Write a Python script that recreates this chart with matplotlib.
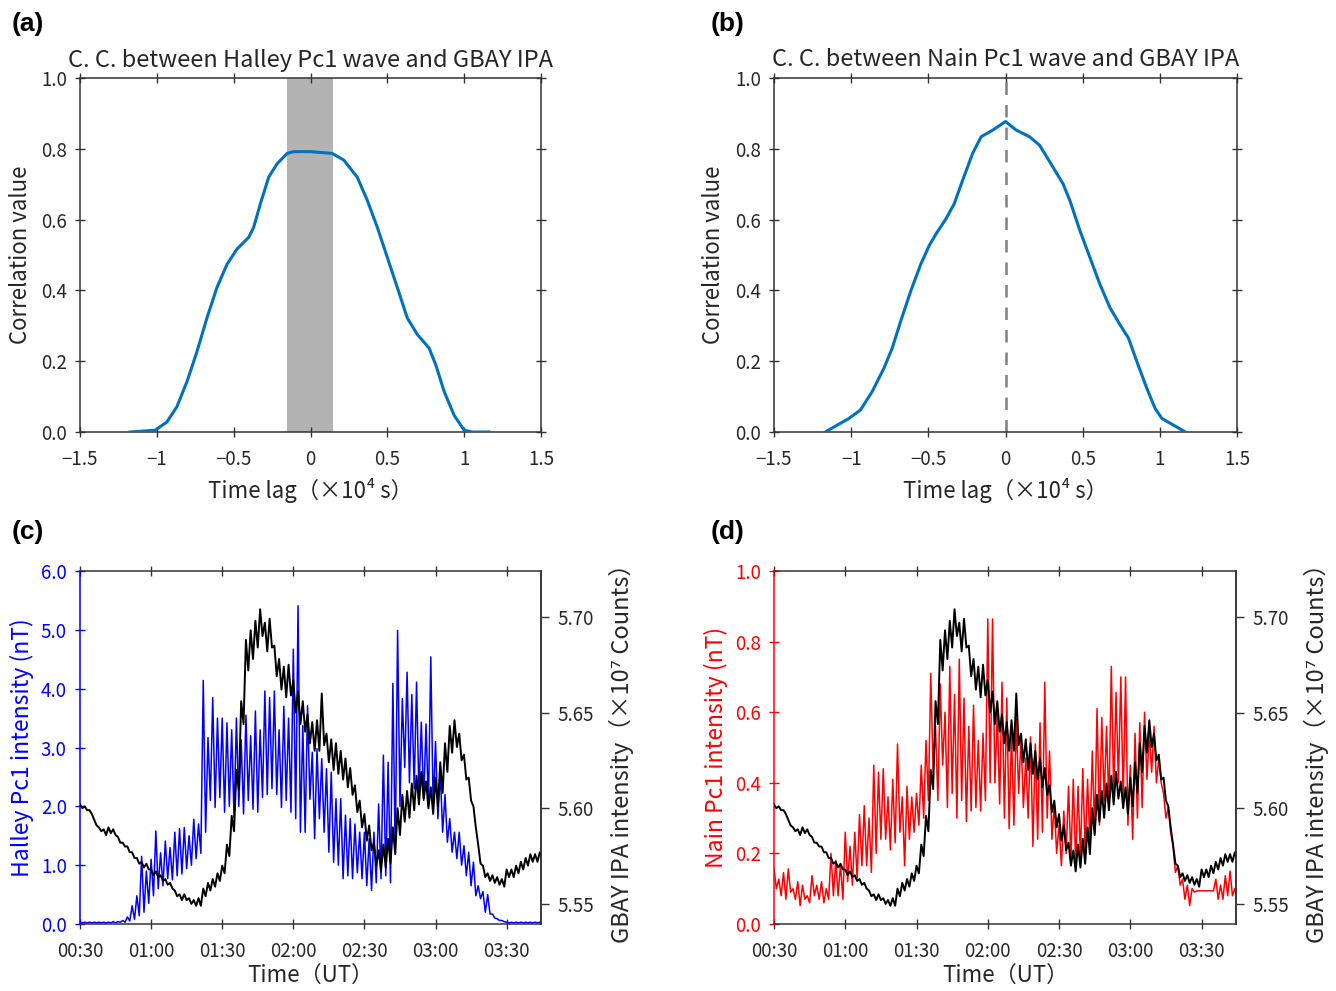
import numpy as np
import matplotlib
matplotlib.use('Agg')
import matplotlib.pyplot as plt

plt.rcParams['font.family'] = ['Noto Sans CJK JP', 'DejaVu Sans']
plt.rcParams['axes.unicode_minus'] = True

TXT = '#262626'

# ---------------- data ----------------
# (a) cross-correlation Halley Pc1 vs GBAY IPA  (lag in 1e4 s)
lag_a = [-1.174, -1.011, -0.935, -0.870, -0.804, -0.739, -0.674, -0.609, -0.543, -0.478,
         -0.402, -0.370, -0.326, -0.272, -0.217, -0.152, -0.109, 0.0, 0.141, 0.217,
         0.304, 0.370, 0.435, 0.500, 0.565, 0.630, 0.696, 0.772, 0.815, 0.870,
         0.935, 1.000, 1.054, 1.163]
cc_a = [0.0, 0.005, 0.028, 0.071, 0.142, 0.227, 0.322, 0.408, 0.474, 0.517,
        0.550, 0.578, 0.645, 0.720, 0.758, 0.787, 0.792, 0.792, 0.787, 0.768,
        0.720, 0.654, 0.578, 0.493, 0.408, 0.322, 0.275, 0.237, 0.190, 0.114,
        0.047, 0.005, 0.0, 0.0]
band_a = [-0.152, 0.148]

# (b) cross-correlation Nain Pc1 vs GBAY IPA
lag_b = [-1.168, -1.016, -0.940, -0.864, -0.788, -0.734, -0.679, -0.614, -0.549, -0.495,
         -0.451, -0.386, -0.332, -0.278, -0.213, -0.158, -0.082, 0.0, 0.069, 0.156,
         0.221, 0.287, 0.373, 0.417, 0.482, 0.547, 0.612, 0.677, 0.742, 0.797,
         0.851, 0.916, 0.970, 1.014, 1.090, 1.166]
cc_b = [0.0, 0.038, 0.062, 0.114, 0.180, 0.237, 0.313, 0.398, 0.474, 0.526,
        0.559, 0.602, 0.645, 0.711, 0.787, 0.834, 0.853, 0.877, 0.853, 0.834,
        0.810, 0.763, 0.701, 0.654, 0.569, 0.493, 0.417, 0.351, 0.303, 0.265,
        0.199, 0.123, 0.066, 0.038, 0.019, 0.0]
peak_lag_b = 0.0

# (c),(d) time series: 2-minute bins (minutes after 00:00 UT), max / min in each bin
t_start, t_step, n_bins = 30, 2, 98

halley_hi = [0.03, 0.03, 0.03, 0.03, 0.03, 0.03, 0.03, 0.04, 0.04, 0.06,
             0.12, 0.31, 0.48, 1.15, 0.90, 1.10, 1.58, 1.21, 1.41, 1.30,
             1.56, 1.62, 1.64, 1.50, 1.78, 1.70, 4.14, 3.17, 3.85, 3.50,
             3.50, 3.42, 3.30, 3.50, 3.13, 3.55, 3.20, 3.62, 3.30, 3.96,
             3.85, 3.96, 3.30, 3.70, 3.50, 4.67, 5.41, 3.37, 3.71, 2.92,
             2.98, 2.81, 2.64, 2.58, 2.13, 2.13, 1.85, 1.79, 1.70, 1.56,
             1.56, 1.45, 1.56, 2.04, 2.87, 2.75, 4.09, 4.99, 3.83, 4.28,
             3.90, 4.11, 3.43, 3.40, 4.54, 3.10, 2.58, 2.20, 1.79, 1.56,
             1.56, 1.33, 1.22, 1.05, 0.65, 0.55, 0.50, 0.17, 0.09, 0.06,
             0.03, 0.03, 0.03, 0.03, 0.03, 0.03, 0.03, 0.03]
halley_lo = [0.02, 0.02, 0.02, 0.02, 0.02, 0.02, 0.02, 0.02, 0.03, 0.03,
             0.05, 0.08, 0.14, 0.20, 0.35, 0.48, 0.60, 0.65, 0.77, 0.75,
             0.82, 0.85, 0.94, 1.00, 1.11, 1.20, 1.56, 2.10, 1.98, 2.15,
             1.90, 2.00, 1.80, 2.00, 1.87, 2.10, 1.95, 1.90, 2.15, 2.20,
             2.30, 2.20, 1.98, 2.10, 1.90, 1.79, 1.56, 1.56, 2.12, 1.45,
             1.79, 1.56, 1.22, 1.05, 1.00, 0.77, 0.82, 0.77, 0.87, 0.77,
             0.65, 0.57, 0.70, 0.77, 0.82, 0.70, 1.20, 2.00, 2.66, 2.40,
             2.30, 2.20, 2.10, 2.00, 1.98, 1.79, 1.56, 1.39, 1.22, 1.11,
             1.00, 0.82, 0.65, 0.48, 0.43, 0.20, 0.17, 0.10, 0.06, 0.04,
             0.02, 0.02, 0.02, 0.02, 0.02, 0.02, 0.02, 0.02]

nain_hi = [0.156, 0.127, 0.146, 0.156, 0.10, 0.12, 0.11, 0.08, 0.137, 0.11,
           0.12, 0.10, 0.20, 0.18, 0.17, 0.26, 0.22, 0.26, 0.31, 0.335,
           0.30, 0.45, 0.43, 0.44, 0.36, 0.41, 0.51, 0.36, 0.39, 0.36,
           0.37, 0.45, 0.52, 0.71, 0.56, 0.68, 0.60, 0.73, 0.65, 0.75,
           0.64, 0.56, 0.62, 0.52, 0.54, 0.864, 0.864, 0.60, 0.685, 0.64,
           0.54, 0.58, 0.53, 0.47, 0.53, 0.51, 0.57, 0.685, 0.49, 0.34,
           0.28, 0.32, 0.39, 0.41, 0.39, 0.44, 0.41, 0.49, 0.61, 0.585,
           0.56, 0.73, 0.656, 0.70, 0.70, 0.45, 0.54, 0.57, 0.60, 0.54,
           0.56, 0.47, 0.37, 0.33, 0.22, 0.165, 0.127, 0.11, 0.10, 0.094,
           0.094, 0.094, 0.094, 0.127, 0.11, 0.137, 0.15, 0.10]
nain_lo = [0.10, 0.08, 0.07, 0.09, 0.07, 0.052, 0.07, 0.06, 0.08, 0.07,
           0.06, 0.07, 0.08, 0.08, 0.07, 0.12, 0.11, 0.13, 0.165, 0.165,
           0.146, 0.20, 0.24, 0.24, 0.21, 0.23, 0.26, 0.165, 0.24, 0.26,
           0.28, 0.30, 0.35, 0.43, 0.35, 0.45, 0.33, 0.37, 0.30, 0.35,
           0.29, 0.32, 0.33, 0.32, 0.35, 0.40, 0.40, 0.34, 0.30, 0.27,
           0.28, 0.37, 0.33, 0.30, 0.22, 0.24, 0.26, 0.30, 0.24, 0.20,
           0.165, 0.20, 0.18, 0.165, 0.19, 0.20, 0.23, 0.26, 0.28, 0.35,
           0.33, 0.37, 0.40, 0.35, 0.28, 0.24, 0.30, 0.33, 0.41, 0.43,
           0.40, 0.40, 0.30, 0.26, 0.146, 0.11, 0.07, 0.052, 0.09, 0.094,
           0.094, 0.094, 0.094, 0.07, 0.07, 0.08, 0.08, 0.07]

ipa_hi = [5.602, 5.601, 5.599, 5.594, 5.590, 5.589, 5.590, 5.589, 5.585, 5.582,
          5.580, 5.577, 5.574, 5.572, 5.571, 5.568, 5.567, 5.565, 5.563, 5.561,
          5.557, 5.555, 5.555, 5.553, 5.552, 5.553, 5.558, 5.561, 5.563, 5.566,
          5.570, 5.581, 5.596, 5.620, 5.656, 5.688, 5.693, 5.698, 5.704, 5.697,
          5.699, 5.685, 5.678, 5.674, 5.675, 5.667, 5.661, 5.656, 5.649, 5.645,
          5.646, 5.660, 5.639, 5.636, 5.634, 5.630, 5.626, 5.621, 5.612, 5.604,
          5.597, 5.591, 5.582, 5.578, 5.581, 5.584, 5.590, 5.600, 5.607, 5.609,
          5.613, 5.617, 5.619, 5.614, 5.611, 5.616, 5.624, 5.634, 5.643, 5.646,
          5.639, 5.628, 5.616, 5.601, 5.581, 5.570, 5.566, 5.565, 5.564, 5.563,
          5.568, 5.568, 5.570, 5.572, 5.574, 5.576, 5.576, 5.577]
ipa_lo = [5.600, 5.599, 5.597, 5.591, 5.588, 5.586, 5.587, 5.586, 5.582, 5.580,
          5.577, 5.574, 5.571, 5.569, 5.568, 5.565, 5.564, 5.562, 5.560, 5.558,
          5.554, 5.552, 5.552, 5.550, 5.549, 5.549, 5.554, 5.557, 5.559, 5.562,
          5.566, 5.575, 5.588, 5.610, 5.644, 5.672, 5.678, 5.684, 5.690, 5.682,
          5.684, 5.669, 5.662, 5.658, 5.659, 5.650, 5.644, 5.640, 5.634, 5.630,
          5.630, 5.633, 5.624, 5.620, 5.618, 5.615, 5.611, 5.607, 5.598, 5.590,
          5.583, 5.578, 5.570, 5.567, 5.569, 5.571, 5.576, 5.586, 5.593, 5.595,
          5.599, 5.602, 5.605, 5.600, 5.597, 5.601, 5.608, 5.619, 5.629, 5.632,
          5.625, 5.615, 5.604, 5.590, 5.571, 5.564, 5.562, 5.561, 5.560, 5.559,
          5.564, 5.564, 5.566, 5.568, 5.570, 5.572, 5.572, 5.573]

time_ticks = [30, 60, 90, 120, 150, 180, 210]
time_labels = ['00:30', '01:00', '01:30', '02:00', '02:30', '03:00', '03:30']
time_lim = [30, 224.5]
lag_ticks = [-1.5, -1, -0.5, 0, 0.5, 1, 1.5]
lag_labels = ['\u22121.5', '\u22121', '\u22120.5', '0', '0.5', '1', '1.5']
cc_ticks = [0.0, 0.2, 0.4, 0.6, 0.8, 1.0]
ipa_ticks = [5.55, 5.60, 5.65, 5.70]
ipa_lim = [5.5395, 5.724]

# ---------------- helpers ----------------
t_bin = t_start + t_step * np.arange(n_bins)


def zigzag(hi, lo):
    x = np.column_stack([t_bin, t_bin + t_step / 2]).ravel()
    y = np.column_stack([np.asarray(hi), np.asarray(lo)]).ravel()
    return x, y


TICK_FS = 13.5
LAB_FS = 16


def base_style(ax):
    for s in ax.spines.values():
        s.set_color('#333333')
        s.set_linewidth(1.1)
    ax.tick_params(which='both', direction='inout', length=7, width=1,
                   color='#333333', labelcolor=TXT, labelsize=TICK_FS, pad=6)


fig = plt.figure(figsize=(13.36, 9.91), dpi=100)

W = 1336.0
H = 991.0


def rect(l, r, t, b):
    return [l / W, 1 - b / H, (r - l) / W, (b - t) / H]


axA = fig.add_axes(rect(80, 541, 78, 432))
axB = fig.add_axes(rect(774, 1237, 78, 432))
axC = fig.add_axes(rect(80, 541, 571, 924))
axD = fig.add_axes(rect(774, 1236, 571, 924))

# ---- (a) and (b) ----
for ax, lag, cc, title in [
        (axA, lag_a, cc_a, 'C. C. between Halley Pc1 wave and GBAY IPA'),
        (axB, lag_b, cc_b, 'C. C. between Nain Pc1 wave and GBAY IPA')]:
    base_style(ax)
    ax.plot(lag, cc, color='#0072BD', lw=2.2, zorder=3)
    ax.set_xlim(-1.5, 1.5)
    ax.set_ylim(0, 1)
    ax.set_xticks(lag_ticks)
    ax.set_xticklabels(lag_labels)
    ax.set_yticks(cc_ticks)
    ax.set_yticklabels(['%.1f' % v for v in cc_ticks])
    ax.tick_params(top=True, right=True)
    ax.tick_params(axis='x', pad=9)
    ax.set_xlabel('Time lag（×10⁴ s）', fontsize=LAB_FS, color=TXT)
    ax.xaxis.set_label_coords(0.5, -0.164)
    ax.xaxis.label.set_va('center')
    ax.set_ylabel('Correlation value', fontsize=LAB_FS, color=TXT)
    ax.yaxis.set_label_coords(-0.13, 0.5)
    ax.yaxis.label.set_va('center')
    ax.text(0.5, 1 + 18 / 354, title, transform=ax.transAxes, ha='center',
            va='center', fontsize=17, color=TXT)

axA.axvspan(band_a[0], band_a[1], color='#b3b3b3', lw=0, zorder=1)
axB.axvline(peak_lag_b, color='#808080', lw=1.8, ls=(0, (5, 4)), zorder=2)

# ---- (c) and (d) ----
for ax, hi, lo, col, ylim, yticks, ylab in [
        (axC, halley_hi, halley_lo, '#0000FF', (0, 6), [0, 1, 2, 3, 4, 5, 6],
         'Halley Pc1 intensity (nT)'),
        (axD, nain_hi, nain_lo, '#FF0000', (0, 1), [0, 0.2, 0.4, 0.6, 0.8, 1.0],
         'Nain Pc1 intensity (nT)')]:
    base_style(ax)
    x, y = zigzag(hi, lo)
    ax.plot(x, y, color=col, lw=1.1)
    ax.set_xlim(*time_lim)
    ax.set_ylim(*ylim)
    ax.set_xticks(time_ticks)
    ax.set_xticklabels(time_labels)
    ax.set_yticks(yticks)
    ax.set_yticklabels(['%.1f' % v for v in yticks])
    ax.tick_params(top=True)
    ax.tick_params(axis='x', pad=9)
    ax.tick_params(axis='y', colors=col, labelcolor=col)
    ax.spines['left'].set_color(col)
    ax.set_xlabel('Time（UT）', fontsize=LAB_FS, color=TXT)
    ax.xaxis.set_label_coords(0.5, -0.145)
    ax.xaxis.label.set_va('center')
    ax.set_ylabel(ylab, fontsize=16.5, color=col)
    ax.yaxis.set_label_coords(-0.126, 0.5)
    ax.yaxis.label.set_va('center')

    tw = ax.twinx()
    for s in ['top', 'bottom', 'left']:
        tw.spines[s].set_visible(False)
    tw.spines['right'].set_color('#333333')
    tw.spines['right'].set_linewidth(1.1)
    xi, yi = zigzag(ipa_hi, ipa_lo)
    tw.plot(xi, yi, color='black', lw=1.4)
    tw.set_ylim(*ipa_lim)
    tw.set_yticks(ipa_ticks)
    tw.set_yticklabels(['%.2f' % v for v in ipa_ticks])
    tw.tick_params(direction='out', length=6, width=1, color='#333333',
                   labelcolor=TXT, labelsize=TICK_FS, pad=6)
    tw.set_ylabel('GBAY IPA intensity（×10⁷ Counts）', fontsize=17, color=TXT,
                  rotation=90)
    tw.yaxis.set_label_coords(1.175, 0.5)
    tw.yaxis.label.set_va('center')

# panel letters
for lbl, x, y in [('(a)', 12, 24), ('(b)', 711, 24), ('(c)', 12, 532), ('(d)', 711, 532)]:
    fig.text(x / W, 1 - y / H, lbl, fontsize=19, fontweight='bold',
             family='Liberation Sans', ha='left', va='center', color='black')

fig.savefig('out.png', dpi=100)
